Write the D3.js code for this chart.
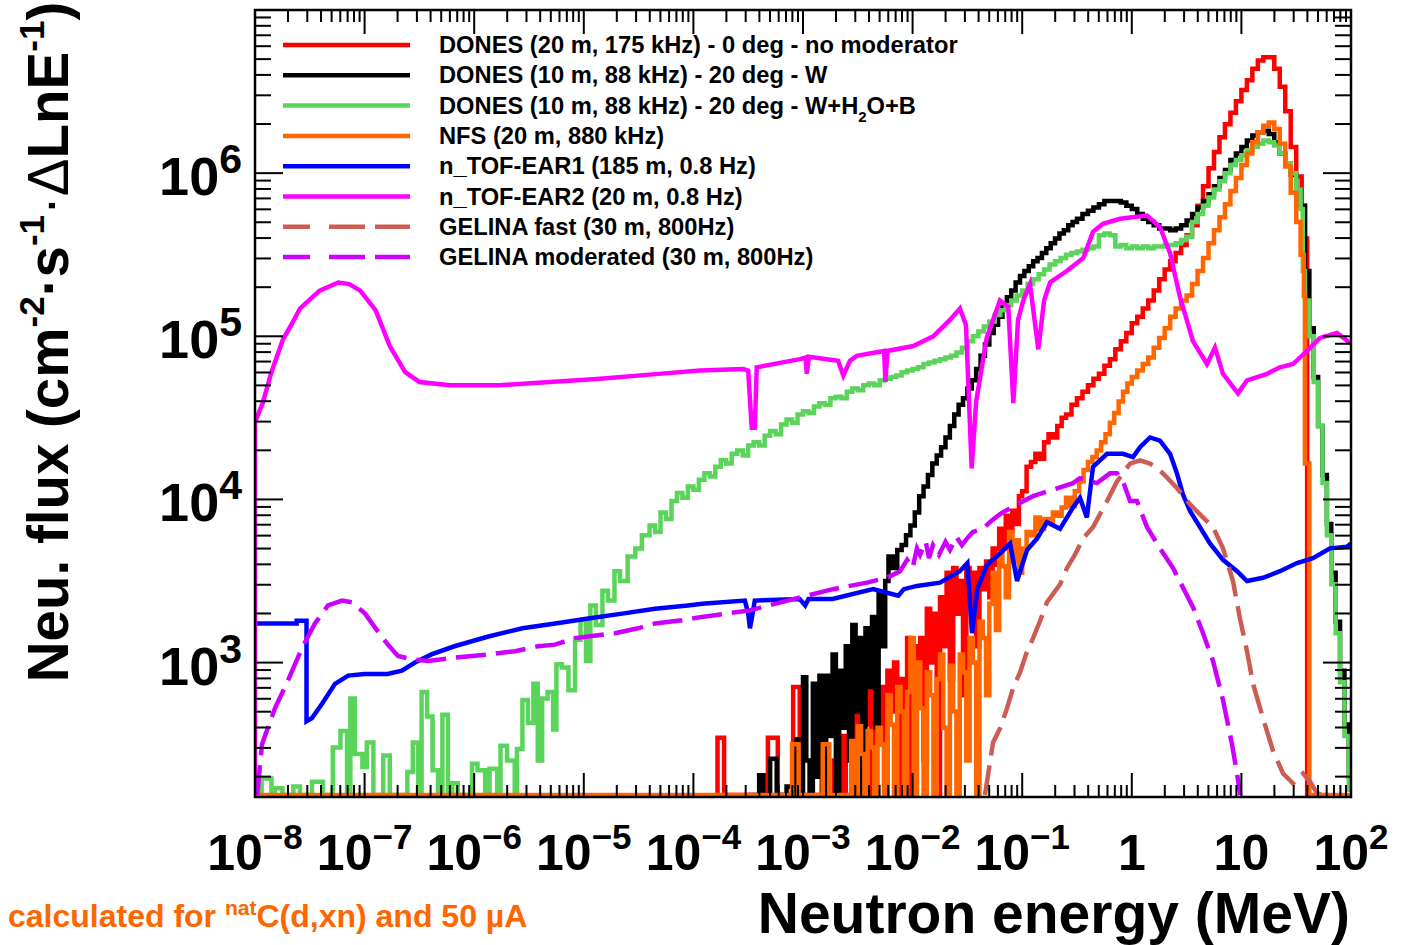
<!DOCTYPE html>
<html>
<head>
<meta charset="utf-8">
<script src="https://cdn.jsdelivr.net/npm/d3@7/dist/d3.min.js"></script>
<style>
  body { margin: 0; background: #fff; }
  text { font-family: "Liberation Sans", Arial, Helvetica, sans-serif; font-weight: bold; }
</style>
</head>
<body>
<div id="chart"></div>
<script>
// all series as [log10(E / MeV), log10(flux)]
// values below the axis floor are drawn on the bottom frame, like ROOT does

// DONES (20 m, 175 kHz) - 0 deg - no moderator
const donesNoMod = [[-3.80,1.0],[-3.78,2.54],[-3.72,1.0],[-3.32,2.54],[-3.23,1.0],[-3.09,2.85],[-3.03,1.0],[-2.83,2.85],[-2.79,1.0],
  [-2.72,2.40],[-2.69,1.0],[-2.64,2.55],[-2.61,1.0],[-2.56,2.70],[-2.53,2.20],[-2.50,2.80],[-2.47,1.0],[-2.44,2.62],[-2.41,2.85],
  [-2.38,1.0],[-2.35,2.75],[-2.32,2.50],[-2.29,2.85],[-2.26,1.0],[-2.23,2.95],[-2.20,2.70],[-2.17,3.00],[-2.14,1.0],[-2.11,2.90],
  [-2.08,2.60],[-2.05,3.15],[-2.02,1.0],[-1.99,3.10],[-1.96,2.80],[-1.93,3.15],[-1.90,2.40],[-1.87,3.33],[-1.84,3.00],[-1.81,3.30],
  [-1.78,1.0],[-1.75,3.40],[-1.72,3.10],[-1.69,3.55],[-1.66,2.90],[-1.63,3.58],[-1.60,3.30],[-1.57,3.50],[-1.54,2.80],[-1.51,3.58],
  [-1.48,3.35],[-1.45,3.55],[-1.42,3.10],[-1.39,3.58],[-1.36,3.45],[-1.33,3.62],[-1.30,3.40],[-1.27,3.70],[-1.24,3.60],[-1.21,3.82],
  [-1.18,3.70],[-1.15,3.90],[-1.12,3.80],[-1.09,3.93],[-1.06,3.85],[-1.03,4.02],[-1.00,4.05],[-0.96,4.20],[-0.92,4.23],[-0.88,4.28],
  [-0.84,4.25],[-0.80,4.35],[-0.76,4.40],[-0.72,4.38],[-0.68,4.45],[-0.64,4.50],[-0.60,4.52],[-0.55,4.58],[-0.50,4.62],[-0.45,4.66],
  [-0.40,4.70],[-0.35,4.74],[-0.30,4.77],[-0.25,4.82],[-0.20,4.86],[-0.15,4.92],[-0.10,4.97],[-0.05,5.02],[0.00,5.08],[0.05,5.12],
  [0.10,5.17],[0.15,5.22],[0.20,5.28],[0.25,5.35],[0.30,5.41],[0.35,5.46],[0.40,5.51],[0.45,5.56],[0.50,5.62],[0.55,5.68],
  [0.60,5.80],[0.65,5.92],[0.70,6.03],[0.75,6.13],[0.80,6.22],[0.85,6.30],[0.90,6.37],[0.95,6.44],[1.00,6.51],[1.05,6.57],
  [1.10,6.64],[1.15,6.69],[1.20,6.71],[1.25,6.71],[1.30,6.64],[1.35,6.53],[1.40,6.38],[1.45,6.16],[1.50,5.98],[1.55,5.80],
  [1.58,5.60],[1.60,1.0],[1.62,1.0]];

// DONES (10 m, 88 kHz) - 20 deg - W
const donesW = [[-3.50,1.0],[-3.40,2.31],[-3.36,1.0],[-3.30,2.41],[-3.24,2.10],[-3.20,1.0],[-3.15,2.24],[-3.10,1.0],[-3.06,2.53],
  [-3.03,1.0],[-3.00,2.91],[-2.97,2.40],[-2.94,1.0],[-2.91,2.87],[-2.88,2.30],[-2.85,2.92],[-2.82,1.0],[-2.79,2.92],[-2.76,2.55],
  [-2.73,3.05],[-2.70,1.0],[-2.67,2.95],[-2.64,2.60],[-2.61,3.10],[-2.58,2.40],[-2.55,3.23],[-2.52,2.70],[-2.49,3.15],[-2.46,1.0],
  [-2.43,3.21],[-2.40,2.85],[-2.37,3.28],[-2.34,2.60],[-2.31,3.43],[-2.28,3.10],[-2.25,3.50],[-2.22,3.65],[-2.18,3.58],[-2.14,3.69],
  [-2.10,3.72],[-2.06,3.78],[-2.02,3.84],[-1.98,3.92],[-1.94,4.02],[-1.90,4.08],[-1.86,4.15],[-1.82,4.22],[-1.78,4.27],[-1.74,4.32],
  [-1.70,4.38],[-1.66,4.45],[-1.62,4.52],[-1.58,4.58],[-1.54,4.62],[-1.50,4.68],[-1.46,4.73],[-1.42,4.80],[-1.38,4.88],[-1.34,4.95],
  [-1.30,5.02],[-1.26,5.07],[-1.22,5.12],[-1.18,5.18],[-1.14,5.24],[-1.10,5.28],[-1.06,5.33],[-1.02,5.37],[-0.98,5.40],[-0.94,5.43],
  [-0.90,5.46],[-0.86,5.48],[-0.82,5.51],[-0.78,5.54],[-0.74,5.57],[-0.70,5.60],[-0.66,5.63],[-0.62,5.65],[-0.58,5.68],[-0.54,5.70],
  [-0.50,5.72],[-0.45,5.75],[-0.40,5.77],[-0.35,5.79],[-0.30,5.81],[-0.25,5.83],[-0.20,5.83],[-0.15,5.83],[-0.10,5.82],[-0.05,5.80],
  [0.00,5.78],[0.05,5.75],[0.10,5.72],[0.15,5.70],[0.20,5.68],[0.25,5.66],[0.30,5.66],[0.35,5.65],[0.40,5.66],[0.45,5.68],
  [0.50,5.71],[0.55,5.75],[0.60,5.79],[0.65,5.83],[0.70,5.87],[0.75,5.92],[0.80,5.97],[0.85,6.02],[0.90,6.08],[0.95,6.12],
  [1.00,6.16],[1.05,6.20],[1.10,6.23],[1.15,6.25],[1.20,6.26],[1.25,6.24],[1.30,6.19],[1.35,6.12],[1.40,6.06],[1.45,5.99],
  [1.50,5.90],[1.54,5.80],[1.58,5.40],[1.62,5.05],[1.66,4.75],[1.70,4.45],[1.74,4.15],[1.78,3.85],[1.82,3.55],[1.86,3.25],
  [1.90,2.95],[1.94,2.62],[1.98,2.30],[2.00,2.30]];

// DONES (10 m, 88 kHz) - 20 deg - W+H2O+B
const donesWH2OB = [[-8.00,1.0],[-7.94,2.29],[-7.85,1.0],[-7.82,2.23],[-7.75,1.0],[-7.65,2.24],[-7.59,1.0],[-7.48,2.27],[-7.38,1.0],
  [-7.29,2.48],[-7.22,2.58],[-7.16,1.0],[-7.13,2.78],[-7.09,2.44],[-7.02,2.36],[-6.98,2.51],[-6.92,1.0],[-6.83,2.43],[-6.77,1.0],
  [-6.61,2.33],[-6.56,2.51],[-6.51,1.0],[-6.48,2.82],[-6.43,2.67],[-6.38,2.34],[-6.33,1.0],[-6.29,2.68],[-6.24,1.0],[-6.20,2.26],
  [-6.15,1.0],[-6.02,2.38],[-5.97,2.34],[-5.90,1.0],[-5.86,2.35],[-5.79,1.0],[-5.76,2.49],[-5.70,2.40],[-5.63,1.0],[-5.61,2.47],
  [-5.56,2.77],[-5.51,2.63],[-5.46,2.87],[-5.42,2.40],[-5.38,2.78],[-5.33,2.82],[-5.28,2.59],[-5.25,2.99],[-5.20,2.97],[-5.14,2.83],
  [-5.08,3.14],[-5.03,3.26],[-4.98,3.01],[-4.94,3.35],[-4.89,3.23],[-4.83,3.44],[-4.78,3.38],[-4.72,3.56],[-4.67,3.50],[-4.60,3.65],
  [-4.53,3.70],[-4.47,3.78],[-4.40,3.84],[-4.35,3.80],[-4.30,3.92],[-4.25,3.88],[-4.20,3.99],[-4.15,4.04],[-4.10,4.01],[-4.05,4.08],
  [-4.00,4.06],[-3.95,4.12],[-3.90,4.16],[-3.85,4.14],[-3.80,4.20],[-3.75,4.24],[-3.70,4.22],[-3.65,4.28],[-3.60,4.30],[-3.55,4.27],
  [-3.50,4.33],[-3.45,4.35],[-3.40,4.33],[-3.35,4.39],[-3.30,4.42],[-3.25,4.40],[-3.20,4.46],[-3.15,4.49],[-3.10,4.47],[-3.05,4.52],
  [-3.00,4.54],[-2.95,4.53],[-2.90,4.57],[-2.85,4.59],[-2.80,4.58],[-2.75,4.62],[-2.70,4.63],[-2.65,4.62],[-2.60,4.66],[-2.55,4.68],
  [-2.50,4.67],[-2.45,4.70],[-2.40,4.71],[-2.35,4.70],[-2.30,4.73],[-2.25,4.74],[-2.20,4.75],[-2.15,4.76],[-2.10,4.78],[-2.05,4.79],
  [-2.00,4.80],[-1.95,4.81],[-1.90,4.83],[-1.85,4.84],[-1.80,4.85],[-1.75,4.86],[-1.70,4.87],[-1.65,4.88],[-1.60,4.90],[-1.55,4.93],
  [-1.50,4.97],[-1.45,5.00],[-1.40,5.03],[-1.35,5.06],[-1.30,5.09],[-1.25,5.13],[-1.20,5.16],[-1.15,5.19],[-1.10,5.22],[-1.05,5.25],
  [-1.00,5.28],[-0.95,5.32],[-0.90,5.35],[-0.85,5.38],[-0.80,5.41],[-0.75,5.44],[-0.70,5.46],[-0.65,5.48],[-0.60,5.50],[-0.55,5.51],
  [-0.50,5.52],[-0.45,5.53],[-0.40,5.54],[-0.35,5.55],[-0.30,5.62],[-0.25,5.63],[-0.20,5.62],[-0.15,5.55],[-0.10,5.56],[-0.05,5.54],
  [0.00,5.55],[0.05,5.54],[0.10,5.55],[0.15,5.54],[0.20,5.55],[0.25,5.55],[0.30,5.56],[0.35,5.56],[0.40,5.57],[0.45,5.59],
  [0.50,5.61],[0.55,5.70],[0.60,5.75],[0.65,5.80],[0.70,5.85],[0.75,5.90],[0.80,5.95],[0.85,6.00],[0.90,6.05],[0.95,6.08],
  [1.00,6.11],[1.05,6.14],[1.10,6.16],[1.15,6.18],[1.20,6.20],[1.25,6.19],[1.30,6.17],[1.35,6.12],[1.40,6.06],[1.45,6.00],
  [1.50,5.90],[1.54,5.78],[1.56,5.40],[1.58,5.22],[1.62,5.00],[1.66,4.72],[1.70,4.45],[1.74,4.10],[1.78,3.78],[1.82,3.48],
  [1.86,3.18],[1.90,2.88],[1.94,2.55],[1.98,2.22],[2.00,2.22]];

// NFS (20 m, 880 kHz)
const nfs = [[-8.00,1.0],[-3.10,2.50],[-3.04,1.0],[-2.82,2.50],[-2.76,1.0],[-2.56,2.52],[-2.53,1.0],[-2.50,2.61],[-2.47,2.44],
  [-2.44,1.0],[-2.41,2.58],[-2.38,2.48],[-2.35,1.0],[-2.32,2.60],[-2.29,2.50],[-2.26,1.0],[-2.23,2.80],[-2.20,2.62],[-2.17,1.0],
  [-2.14,2.85],[-2.11,2.70],[-2.08,1.0],[-2.05,2.82],[-2.02,3.15],[-1.99,1.0],[-1.96,3.00],[-1.93,2.72],[-1.90,1.0],[-1.87,2.94],
  [-1.84,2.80],[-1.81,1.0],[-1.78,2.90],[-1.75,3.05],[-1.72,2.60],[-1.69,1.0],[-1.66,2.98],[-1.63,2.70],[-1.60,1.0],[-1.57,3.05],
  [-1.54,2.94],[-1.51,2.40],[-1.48,3.15],[-1.45,3.00],[-1.42,1.0],[-1.39,3.25],[-1.36,3.15],[-1.33,2.80],[-1.30,3.36],[-1.27,3.55],
  [-1.24,3.20],[-1.21,3.67],[-1.18,3.59],[-1.15,3.40],[-1.12,3.80],[-1.09,3.62],[-1.06,3.75],[-1.03,3.55],[-1.00,3.70],[-0.96,3.80],
  [-0.92,3.78],[-0.88,3.89],[-0.84,3.82],[-0.80,3.88],[-0.76,3.86],[-0.72,3.92],[-0.68,3.90],[-0.64,3.95],[-0.60,4.01],[-0.56,3.96],
  [-0.52,4.05],[-0.48,4.11],[-0.44,4.18],[-0.40,4.23],[-0.36,4.26],[-0.32,4.30],[-0.28,4.35],[-0.24,4.40],[-0.20,4.47],[-0.16,4.53],
  [-0.12,4.60],[-0.08,4.66],[-0.04,4.71],[0.00,4.75],[0.05,4.79],[0.10,4.83],[0.15,4.87],[0.20,4.93],[0.25,4.99],[0.30,5.05],
  [0.35,5.12],[0.40,5.17],[0.45,5.22],[0.50,5.25],[0.55,5.32],[0.60,5.40],[0.65,5.48],[0.70,5.57],[0.75,5.65],[0.80,5.73],
  [0.85,5.81],[0.90,5.89],[0.95,5.97],[1.00,6.05],[1.05,6.12],[1.10,6.19],[1.15,6.25],[1.20,6.29],[1.25,6.31],[1.30,6.27],
  [1.35,6.18],[1.40,6.04],[1.45,5.88],[1.50,5.70],[1.54,5.50],[1.57,5.25],[1.58,4.22],[1.62,1.0],[2.00,1.0]];

// n_TOF-EAR1 (185 m, 0.8 Hz)
const ear1 = [[-8.00,3.24],[-7.62,3.24],[-7.62,3.256],[-7.53,3.256],[-7.53,2.64],[-7.48,2.66],[-7.39,2.746],[-7.27,2.87],[-7.15,2.92],
  [-7.00,2.93],[-6.79,2.93],[-6.66,2.95],[-6.54,3.00],[-6.39,3.05],[-6.18,3.10],[-5.87,3.16],[-5.56,3.21],[-5.26,3.24],[-4.96,3.27],
  [-4.65,3.30],[-4.35,3.33],[-4.05,3.35],[-3.92,3.36],[-3.53,3.38],[-3.50,3.30],[-3.484,3.21],[-3.46,3.30],[-3.44,3.38],[-3.03,3.39],
  [-2.98,3.35],[-2.95,3.39],[-2.73,3.39],[-2.36,3.45],[-2.13,3.41],[-2.08,3.45],[-1.96,3.47],[-1.75,3.49],[-1.57,3.56],[-1.50,3.61],
  [-1.458,3.18],[-1.41,3.45],[-1.32,3.60],[-1.20,3.67],[-1.11,3.73],[-1.047,3.50],[-0.956,3.69],[-0.865,3.76],[-0.774,3.86],
  [-0.655,3.82],[-0.537,3.95],[-0.473,4.01],[-0.41,3.89],[-0.354,4.20],[-0.226,4.28],[-0.08,4.28],[0.011,4.26],[0.075,4.32],
  [0.166,4.38],[0.257,4.36],[0.349,4.28],[0.412,4.16],[0.467,4.03],[0.531,3.93],[0.622,3.83],[0.713,3.73],[0.832,3.63],[0.96,3.56],
  [1.051,3.50],[1.197,3.52],[1.352,3.56],[1.507,3.61],[1.653,3.64],[1.808,3.70],[1.963,3.71],[2.00,3.73]];

// n_TOF-EAR2 (20 m, 0.8 Hz)
const ear2 = [[-8.00,1.0],[-8.00,4.49],[-7.99,4.49],[-7.93,4.59],[-7.85,4.78],[-7.745,4.98],[-7.66,5.08],[-7.59,5.17],[-7.41,5.28],
  [-7.24,5.33],[-7.14,5.32],[-7.04,5.28],[-6.90,5.16],[-6.77,4.94],[-6.63,4.78],[-6.50,4.72],[-6.22,4.70],[-5.77,4.70],[-5.31,4.72],
  [-4.85,4.74],[-4.40,4.765],[-3.94,4.79],[-3.545,4.80],[-3.50,4.79],[-3.468,4.44],[-3.44,4.44],[-3.422,4.81],[-3.027,4.86],
  [-2.975,4.87],[-2.966,4.77],[-2.945,4.875],[-2.68,4.85],[-2.632,4.76],[-2.571,4.85],[-2.51,4.88],[-2.26,4.91],[-2.248,4.72],
  [-2.23,4.91],[-1.994,4.94],[-1.811,5.00],[-1.659,5.10],[-1.568,5.17],[-1.513,5.07],[-1.461,4.19],[-1.42,4.60],[-1.324,4.99],
  [-1.203,5.22],[-1.127,5.18],[-1.081,4.59],[-1.038,5.10],[-0.990,5.22],[-0.929,5.32],[-0.853,4.92],[-0.80,5.22],[-0.746,5.33],
  [-0.594,5.40],[-0.442,5.48],[-0.354,5.64],[-0.263,5.69],[-0.108,5.72],[0.139,5.74],[0.257,5.67],[0.349,5.51],[0.440,5.24],
  [0.558,4.97],[0.686,4.83],[0.759,4.93],[0.832,4.77],[0.969,4.65],[1.051,4.73],[1.234,4.77],[1.352,4.81],[1.471,4.83],
  [1.599,4.91],[1.717,4.99],[1.872,5.02],[1.991,4.96],[2.00,4.96]];

// GELINA fast (30 m, 800Hz)
const gelinaFast = [[-1.34,2.10],[-1.266,2.51],[-1.20,2.60],[-1.139,2.72],[-1.08,2.85],[-1.02,2.94],[-0.96,3.06],[-0.901,3.15],
  [-0.84,3.25],[-0.774,3.37],[-0.655,3.48],[-0.591,3.58],[-0.52,3.66],[-0.445,3.76],[-0.354,3.83],[-0.226,3.99],[-0.135,4.11],
  [-0.016,4.22],[0.075,4.24],[0.166,4.22],[0.285,4.16],[0.412,4.07],[0.531,3.97],[0.65,3.89],[0.741,3.83],[0.832,3.70],[0.923,3.50],
  [0.987,3.27],[1.051,3.07],[1.106,2.87],[1.197,2.66],[1.288,2.46],[1.38,2.32],[1.471,2.26],[1.562,2.32],[1.626,2.27],[1.69,2.20],[1.74,2.10]];

// GELINA moderated (30 m, 800Hz)
const gelinaMod = [[-7.98,2.10],[-7.936,2.50],[-7.818,2.72],[-7.699,2.89],[-7.571,3.09],[-7.453,3.24],[-7.334,3.35],[-7.206,3.38],
  [-7.115,3.37],[-6.996,3.30],[-6.878,3.19],[-6.787,3.11],[-6.695,3.04],[-6.568,3.02],[-6.42,3.01],[-6.175,3.03],[-5.874,3.05],
  [-5.628,3.07],[-5.418,3.10],[-5.263,3.11],[-5.08,3.15],[-4.962,3.16],[-4.715,3.18],[-4.505,3.21],[-4.35,3.24],[-4.104,3.26],
  [-3.922,3.28],[-3.484,3.32],[-3.027,3.40],[-2.726,3.45],[-2.416,3.49],[-2.234,3.52],[-2.115,3.56],[-2.05,3.63],[-2.00,3.58],
  [-1.96,3.70],[-1.932,3.66],[-1.88,3.74],[-1.85,3.64],[-1.814,3.72],[-1.76,3.66],[-1.70,3.74],[-1.659,3.69],[-1.60,3.77],
  [-1.55,3.72],[-1.504,3.76],[-1.45,3.80],[-1.358,3.82],[-1.28,3.87],[-1.203,3.91],[-1.047,3.97],[-0.901,4.02],[-0.719,4.06],
  [-0.536,4.10],[-0.473,4.13],[-0.318,4.10],[-0.199,4.16],[-0.135,4.16],[-0.08,4.11],[-0.016,3.99],[0.047,3.99],[0.139,3.83],
  [0.257,3.70],[0.376,3.58],[0.467,3.46],[0.558,3.34],[0.65,3.18],[0.741,3.01],[0.832,2.77],[0.914,2.50],[0.96,2.32],[0.99,2.10]];

const seriesLabels = [
  "DONES (20 m, 175 kHz) - 0 deg - no moderator",
  "DONES (10 m, 88 kHz) - 20 deg - W",
  "DONES (10 m, 88 kHz) - 20 deg - W+H_2O+B",
  "NFS (20 m, 880 kHz)",
  "n_TOF-EAR1 (185 m, 0.8 Hz)",
  "n_TOF-EAR2 (20 m, 0.8 Hz)",
  "GELINA fast (30 m, 800Hz)",
  "GELINA moderated (30 m, 800Hz)"
];
const seriesData = [donesNoMod, donesW, donesWH2OB, nfs, ear1, ear2, gelinaFast, gelinaMod];
const seriesColors = ["#ff0000", "#000000", "#5bd45b", "#ff6600", "#0000ff", "#ff00ff", "#cd5c55", "#cc00ff"];
const seriesStep = [true, true, true, true, false, false, false, false];
const seriesDashed = [false, false, false, false, false, false, true, true];

const xTickExps = [-8, -7, -6, -5, -4, -3, -2, -1, 0, 1, 2];
const yTickExps = [3, 4, 5, 6];

// ---- layout
const W = 1401, H = 945;
const margin = {top: 10, left: 255, right: 50, bottom: 148};
const width = W - margin.left - margin.right;   // 1096
const height = H - margin.top - margin.bottom;  // 787

const svg = d3.select("#chart").append("svg")
    .attr("width", W)
    .attr("height", H);

const g = svg.append("g")
    .attr("transform", `translate(${margin.left},${margin.top})`);

const x = d3.scaleLog().domain([1e-8, 1e2]).range([0, width]);
const y = d3.scaleLog().domain([150, 1e7]).range([height, 0]);

g.append("defs").append("clipPath")
    .attr("id", "clip")
    .append("rect")
    .attr("width", width)
    .attr("height", height);

const plot = g.append("g").attr("clip-path", "url(#clip)");

// curves
seriesData.forEach((data, i) => {
    let line = d3.line()
        .x(d => x(Math.pow(10, d[0])))
        .y(d => Math.min(y(Math.pow(10, d[1])), height - 2))
        .curve(seriesStep[i] ? d3.curveStepAfter : d3.curveLinear);

    plot.append("path")
        .datum(data)
        .attr("fill", "none")
        .attr("stroke", seriesColors[i])
        .attr("stroke-width", 4.5)
        .attr("stroke-linejoin", "miter")
        .attr("stroke-dasharray", seriesDashed[i] ? "30,10" : null)
        .attr("d", line);
});

// ---- frame and ticks (ROOT style, ticks inside on all sides)
const ticks = g.append("g").attr("stroke", "#000").attr("stroke-width", 2);

let xMinor = [];
for (let e = -8; e < 2; e++) {
    for (let k = 1; k < 10; k++) xMinor.push({v: k * Math.pow(10, e), major: k === 1});
}
xMinor.push({v: 1e2, major: true});

xMinor.forEach(t => {
    let px = x(t.v);
    let len = t.major ? 24 : 12;
    ticks.append("line").attr("x1", px).attr("x2", px).attr("y1", height).attr("y2", height - len);
    ticks.append("line").attr("x1", px).attr("x2", px).attr("y1", 0).attr("y2", len);
});

let yMinor = [];
for (let e = 2; e < 7; e++) {
    for (let k = 1; k < 10; k++) {
        let v = k * Math.pow(10, e);
        if (v >= 150) yMinor.push({v: v, major: k === 1});
    }
}
yMinor.forEach(t => {
    let py = y(t.v);
    let len = t.major ? 28 : 16;
    ticks.append("line").attr("x1", 0).attr("x2", len).attr("y1", py).attr("y2", py);
    ticks.append("line").attr("x1", width).attr("x2", width - len).attr("y1", py).attr("y2", py);
});

g.append("rect")
    .attr("width", width)
    .attr("height", height)
    .attr("fill", "none")
    .attr("stroke", "#000")
    .attr("stroke-width", 2.5);

// ---- tick labels: "10" and the exponent as two texts, centred together on the tick
function powerLabel(cx, baseY, exp, size, supSize, supRise, anchor) {
    let base = g.append("text").attr("y", baseY).attr("font-size", size).text("10");
    let sup = g.append("text").attr("y", baseY - supRise).attr("font-size", supSize).text(exp);
    let wb = base.node().getComputedTextLength();
    let ws = sup.node().getComputedTextLength();
    let left = anchor === "end" ? cx - wb - ws : cx - (wb + ws) / 2;
    base.attr("x", left);
    sup.attr("x", left + wb);
}

const xLabelY = height + 73;
xTickExps.forEach(e => {
    let cx = x(Math.pow(10, e));
    if (e === 0 || e === 1) {
        g.append("text")
            .attr("x", cx)
            .attr("y", xLabelY)
            .attr("text-anchor", "middle")
            .attr("font-size", 50)
            .text(e === 0 ? "1" : "10");
        return;
    }
    powerLabel(cx, xLabelY, e < 0 ? "\u2212" + (-e) : String(e), 50, 35, 21, "middle");
});

yTickExps.forEach(e => {
    powerLabel(-13, y(Math.pow(10, e)) + 22, String(e), 54, 41, 22, "end");
});

// ---- axis titles
svg.append("text")
    .attr("x", 1350)
    .attr("y", 933)
    .attr("text-anchor", "end")
    .attr("font-size", 57)
    .text("Neutron energy (MeV)");

const yTitle = svg.append("text")
    .attr("transform", "translate(68,342) rotate(-90)")
    .attr("text-anchor", "middle")
    .attr("font-size", 56.5);
yTitle.append("tspan").text("Neu. flux (cm");
yTitle.append("tspan").attr("font-size", 35).attr("dy", -24).text("-2");
yTitle.append("tspan").attr("dy", 24).text("\u00b7s");
yTitle.append("tspan").attr("font-size", 35).attr("dy", -24).text("-1");
yTitle.append("tspan").attr("dy", 24).attr("font-weight", "normal").text("\u00b7\u0394");
yTitle.append("tspan").text("LnE");
yTitle.append("tspan").attr("font-size", 35).attr("dy", -24).text("-1");
yTitle.append("tspan").attr("dy", 24).text(")");

// note bottom left
const note = svg.append("text")
    .attr("x", 8)
    .attr("y", 927)
    .attr("font-size", 32)
    .attr("fill", "#ff6600");
note.append("tspan").text("calculated for ");
note.append("tspan").attr("font-size", 21).attr("dy", -12).text("nat");
note.append("tspan").attr("dy", 12).text("C(d,xn) and 50 \u00b5A");

// ---- legend
const legend = svg.append("g");
seriesLabels.forEach((label, i) => {
    let ly = 45 + i * 30.3;
    legend.append("line")
        .attr("x1", 283).attr("x2", 410)
        .attr("y1", ly).attr("y2", ly)
        .attr("stroke", seriesColors[i])
        .attr("stroke-width", 4.5)
        .attr("stroke-dasharray", seriesDashed[i] ? "27,19,36,10,36" : null);

    let t = legend.append("text")
        .attr("x", 439)
        .attr("y", ly + 8)
        .attr("font-size", 23.7);
    // subscript for H_2O
    if (label.includes("H_2O")) {
        let parts = label.split("_2");
        t.append("tspan").text(parts[0]);
        t.append("tspan").attr("font-size", 15).attr("dy", 8).text("2");
        t.append("tspan").attr("dy", -8).text(parts[1]);
    } else {
        t.text(label);
    }
});
</script>
</body>
</html>
